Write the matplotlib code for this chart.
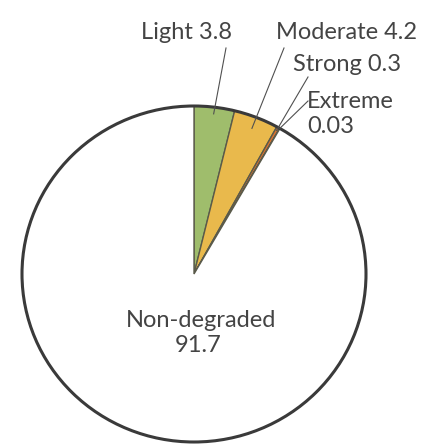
import matplotlib.pyplot as plt
import numpy as np

plt.rcParams['font.family'] = ['Lato', 'DejaVu Sans']

# data
labels = ["Light", "Moderate", "Strong", "Extreme", "Non-degraded"]
values = [3.8, 4.2, 0.3, 0.03, 91.7]
value_text = ["3.8", "4.2", "0.3", "0.03", "91.7"]
colors = ["#9fbd6c", "#e9b94c", "#d9732f", "#c9452c", "#ffffff"]

W, H = 421, 444
CX, CY = 194, 274      # pie centre in pixels
RX, RY = 172, 168      # pixels per unit


def px(x, y):
    return ((x - CX) / RX, (CY - y) / RY)


fig = plt.figure(figsize=(W / 100, H / 100), dpi=100)
ax = fig.add_axes([0, 0, 1, 1])

wedges, _ = ax.pie(values, colors=colors, startangle=90, counterclock=False,
                   radius=1, wedgeprops=dict(edgecolor="#5a5a4a", linewidth=1.0))
# thicker outer rim
ax.add_patch(plt.Circle((0, 0), 1, fill=False, edgecolor="#3a3a3a", linewidth=2.2))

ax.set_aspect('auto')
ax.set_xlim(px(0, 0)[0], px(W, 0)[0])
ax.set_ylim(px(0, H)[1], px(0, 0)[1])
ax.axis('off')

tc = "#444444"
fs = 17

# wedge middle angles
mids = [np.deg2rad((w.theta1 + w.theta2) / 2) for w in wedges]

ax.text(*px(186, 39), f"{labels[0]} {value_text[0]}", ha="center", va="baseline",
        fontsize=fs, color=tc)
ax.text(*px(346, 39), f"{labels[1]} {value_text[1]}", ha="center", va="baseline",
        fontsize=fs, color=tc)
ax.text(*px(347, 71), f"{labels[2]} {value_text[2]}", ha="center", va="baseline",
        fontsize=fs, color=tc)
ax.text(*px(307, 108), labels[3], ha="left", va="baseline", fontsize=fs, color=tc)
ax.text(*px(307, 133), value_text[3], ha="left", va="baseline", fontsize=fs, color=tc)

# leader lines: wedge -> label
line_end = [(226, 48), (284, 48), (308, 77), (308, 101)]
line_r = [0.96, 0.93, 0.98, 1.0]
for i in range(4):
    a = mids[i]
    x0, y0 = line_r[i] * np.cos(a), line_r[i] * np.sin(a)
    x1, y1 = px(*line_end[i])
    ax.plot([x0, x1], [y0, y1], color="#505050", linewidth=0.8)

ax.text(*px(201, 327), labels[4], ha="center", va="baseline", fontsize=fs, color=tc)
ax.text(*px(198, 352), value_text[4], ha="center", va="baseline", fontsize=fs, color=tc)

fig.savefig("out.png", dpi=100)
